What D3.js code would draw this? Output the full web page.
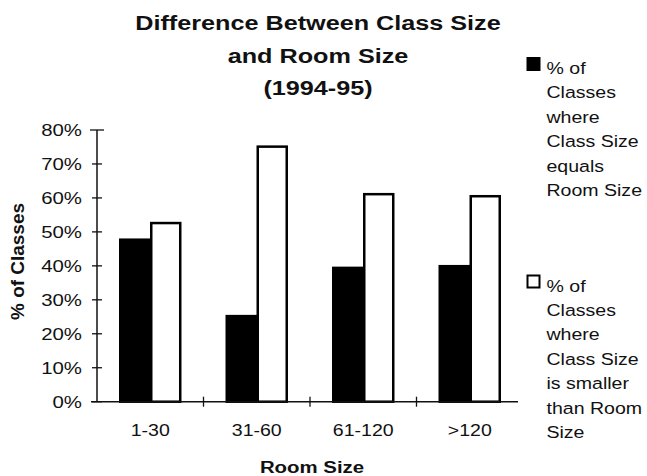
<!DOCTYPE html>
<html>
<head>
<meta charset="utf-8">
<script src="https://cdn.jsdelivr.net/npm/d3@7"></script>
<style>
  html, body { margin: 0; padding: 0; background: #fff; }
  svg { display: block; }
  text { font-family: "Liberation Sans", Arial, Helvetica, sans-serif; fill: #111; }
</style>
</head>
<body>
<script>
// ---- data ----
const categories = ["1-30", "31-60", "61-120", ">120"];
const seriesNames = ["equal", "smaller"];
const equalValues = [0.477, 0.252, 0.394, 0.399];
const smallerValues = [0.526, 0.751, 0.611, 0.605];
const yTickValues = [0, 0.1, 0.2, 0.3, 0.4, 0.5, 0.6, 0.7, 0.8];
const titleLines = ["Difference Between Class Size", "and Room Size", "(1994-95)"];
const legendEqualLines = ["% of", "Classes", "where", "Class Size", "equals", "Room Size"];
const legendSmallerLines = ["% of", "Classes", "where", "Class Size", "is smaller", "than Room", "Size"];
const xTitle = "Room Size";
const yTitle = "% of Classes";

const W = 647, H = 476;
const SX = 1.2; // horizontal stretch of the scanned type

const svg = d3.select("body").append("svg").attr("width", W).attr("height", H);
svg.append("rect").attr("width", W).attr("height", H).attr("fill", "#fff");

const x0 = d3.scaleBand().domain(categories).range([97, 523]).paddingInner(0.418).paddingOuter(0.209);
const x1 = d3.scaleBand().domain(seriesNames).range([0, x0.bandwidth()]).padding(0);
const y = d3.scaleLinear().domain([0, 0.8]).range([401.7, 130]);

const rows = categories.map((c, i) => ({cat: c, equal: equalValues[i], smaller: smallerValues[i]}));

// title
svg.selectAll("text.title").data(titleLines).enter().append("text")
  .attr("class", "title")
  .attr("text-anchor", "middle")
  .attr("font-weight", "bold")
  .attr("font-size", 21)
  .attr("transform", (d, i) => `translate(318,${[30, 63, 95][i]}) scale(${SX},1)`)
  .text(d => d);

// bars
const g = svg.append("g");
const groups = g.selectAll("g.grp").data(rows).enter().append("g")
  .attr("transform", d => `translate(${x0(d.cat)},0)`);
groups.selectAll("rect").data(d => seriesNames.map(k => ({k, v: d[k]}))).enter().append("rect")
  .attr("x", d => x1(d.k) + 1)
  .attr("width", x1.bandwidth() - 2)
  .attr("y", d => y(d.v))
  .attr("height", d => y(0) - y(d.v))
  .attr("fill", d => d.k === "equal" ? "#000" : "#fff")
  .attr("stroke", "#000")
  .attr("stroke-width", 2.5);

// y axis
const yAxis = svg.append("g");
yAxis.append("line").attr("x1", 97).attr("x2", 97).attr("y1", y(0.8)).attr("y2", y(0)).attr("stroke", "#111").attr("stroke-width", 1.5);
yAxis.selectAll("line.tick").data(yTickValues).enter().append("line")
  .attr("x1", d => d === 0.8 ? 90 : 92).attr("x2", d => d === 0.8 ? 104 : 102)
  .attr("y1", d => y(d)).attr("y2", d => y(d))
  .attr("stroke", "#111").attr("stroke-width", 1.3);
yAxis.selectAll("text").data(yTickValues).enter().append("text")
  .attr("text-anchor", "end")
  .attr("font-size", 17)
  .attr("transform", d => `translate(82,${y(d) + 6}) scale(${SX},1)`)
  .text(d => d3.format(".0%")(d));

// x axis
const xAxis = svg.append("g");
xAxis.append("line").attr("x1", 91).attr("x2", 518).attr("y1", y(0)).attr("y2", y(0)).attr("stroke", "#111").attr("stroke-width", 1.5);
const sepTicks = categories.slice(1).map(c => x0(c) - x0.step() * x0.paddingInner() / 2);
xAxis.selectAll("line.tick").data(sepTicks).enter().append("line")
  .attr("x1", d => d).attr("x2", d => d)
  .attr("y1", y(0) - 5).attr("y2", y(0) + 5)
  .attr("stroke", "#111").attr("stroke-width", 1.3);
xAxis.selectAll("text").data(categories).enter().append("text")
  .attr("text-anchor", "middle")
  .attr("font-size", 17)
  .attr("transform", d => `translate(${x0(d) + x0.bandwidth() / 2},436) scale(1.15,1)`)
  .text(d => d);

// axis titles
svg.append("text")
  .attr("text-anchor", "middle")
  .attr("font-weight", "bold")
  .attr("font-size", 17)
  .attr("transform", `translate(312,473) scale(${SX},1)`)
  .text(xTitle);
svg.append("text")
  .attr("text-anchor", "middle")
  .attr("font-weight", "bold")
  .attr("font-size", 15)
  .attr("textLength", 117)
  .attr("lengthAdjust", "spacingAndGlyphs")
  .attr("transform", `translate(24,261.5) scale(${SX},1) rotate(-90)`)
  .text(yTitle);

// legend
function legend(y0, lines, fill) {
  const lg = svg.append("g");
  lg.append("rect").attr("x", 527.5).attr("y", y0 - 16).attr("width", 12).attr("height", 12)
    .attr("fill", fill).attr("stroke", "#000").attr("stroke-width", 2);
  lg.selectAll("text").data(lines).enter().append("text")
    .attr("font-size", 17)
    .attr("transform", (d, i) => `translate(546.5,${y0 + i * 24.4}) scale(1.15,1)`)
    .text(d => d);
}
legend(74, legendEqualLines, "#000");
legend(291.5, legendSmallerLines, "#fff");
</script>
</body>
</html>
